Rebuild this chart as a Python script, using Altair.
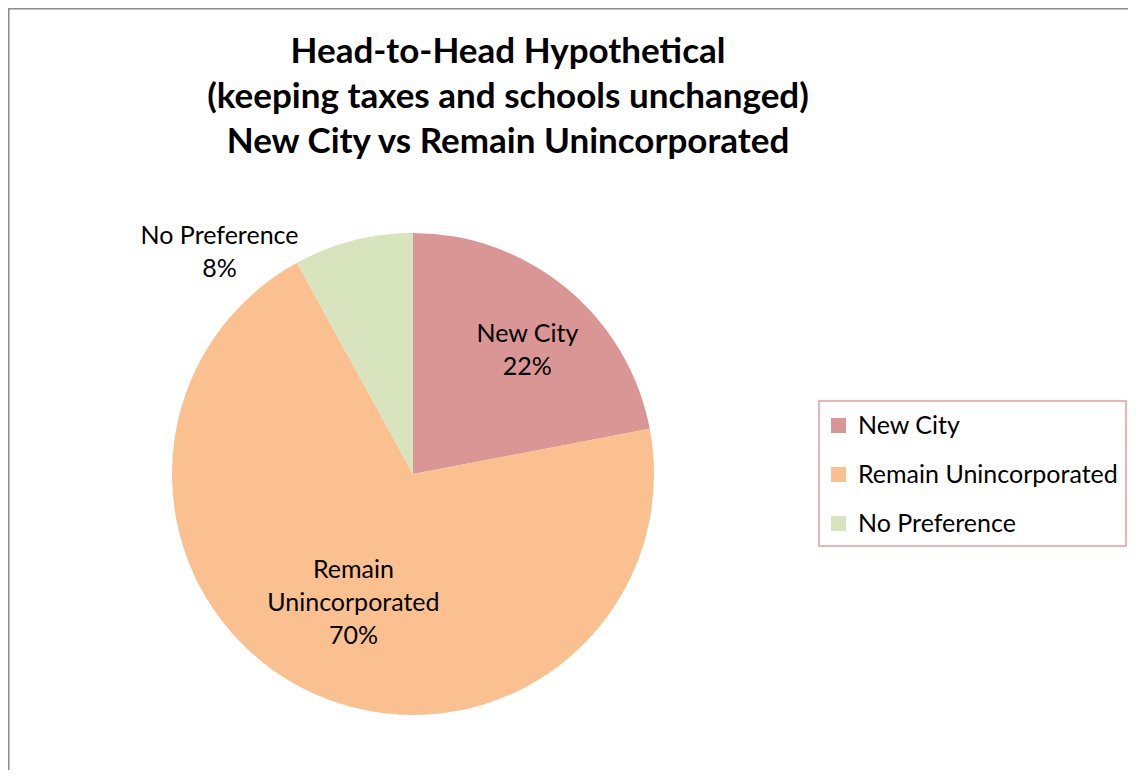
import altair as alt
import pandas as pd

# ---- data ----
categories = ["New City", "Remain Unincorporated", "No Preference"]
values = [22, 70, 8]
label_lines = ["New City", "Remain\nUnincorporated", "No Preference"]
colors = ["#D99694", "#FAC090", "#D7E4BD"]
title_lines = [
    "Head-to-Head Hypothetical",
    "(keeping taxes and schools unchanged)",
    "New City vs Remain Unincorporated",
]

df = pd.DataFrame({
    "category": categories,
    "value": values,
    "lines": label_lines,
    "idx": list(range(len(categories))),
})

FONT = "Lato"
W, H = 1120, 762
CX, CY, R = 405, 466, 241
LFS = 25
LH = 33

base = alt.Chart(df).transform_calculate(
    label="datum.lines + '\\n' + datum.value + '%'"
).encode(
    theta=alt.Theta("value:Q", stack=True),
    order=alt.Order("idx:Q"),
    x=alt.value(CX),
    y=alt.value(CY),
)

pie = base.mark_arc(radius=R).encode(
    color=alt.Color(
        "category:N",
        scale=alt.Scale(domain=categories, range=colors),
        legend=alt.Legend(
            title=None,
            orient="none",
            legendX=818,
            legendY=405,
            symbolType="square",
            symbolSize=225,
            symbolStrokeWidth=0,
            labelFont=FONT,
            labelFontSize=LFS,
            labelColor="#000000",
            labelOffset=7,
            labelLimit=400,
            rowPadding=23,
            padding=0,
        ),
    )
)


def label_layer(cat, radius, nlines, dx=0, dy=0):
    return base.mark_text(
        radius=radius, dx=dx, dy=dy - (nlines - 1) * LH / 2, font=FONT, fontSize=LFS,
        lineBreak="\n", lineHeight=LH, align="center", baseline="middle",
        color="#000000",
    ).encode(
        text=alt.condition(f"datum.category == '{cat}'", alt.Text("label:N"), alt.value(""))
    )


labels = [
    label_layer("New City", 170, 2, dx=6, dy=7),
    label_layer("Remain Unincorporated", 140, 3, dy=2),
    label_layer("No Preference", 231, 2, dx=-136, dy=2),
]

one = pd.DataFrame({"t": [0]})

title = alt.Chart(one).mark_text(
    text=title_lines, font=FONT, fontSize=35, fontWeight="bold",
    lineHeight=45, align="center", baseline="middle", color="#000000",
).encode(x=alt.value(500), y=alt.value(44))

legend_box = alt.Chart(one).mark_rect(
    fill=None, fillOpacity=0, stroke="#E8B4B4", strokeWidth=2
).encode(x=alt.value(811), x2=alt.value(1118), y=alt.value(393), y2=alt.value(538))

border_top = alt.Chart(one).mark_rule(
    color="#8C8C8C", strokeWidth=1.5
).encode(x=alt.value(0), x2=alt.value(W), y=alt.value(0.75))

border_left = alt.Chart(one).mark_rule(
    color="#8C8C8C", strokeWidth=1.5
).encode(x=alt.value(0.75), y=alt.value(0), y2=alt.value(H))

chart = alt.layer(pie, *labels, title, legend_box, border_top, border_left).properties(
    width=W, height=H, padding=0, autosize=alt.AutoSizeParams(type="none"),
    background="#FFFFFF",
).configure_view(stroke=None)

chart.save("out.html", embed_options={"renderer": "svg", "actions": False})
